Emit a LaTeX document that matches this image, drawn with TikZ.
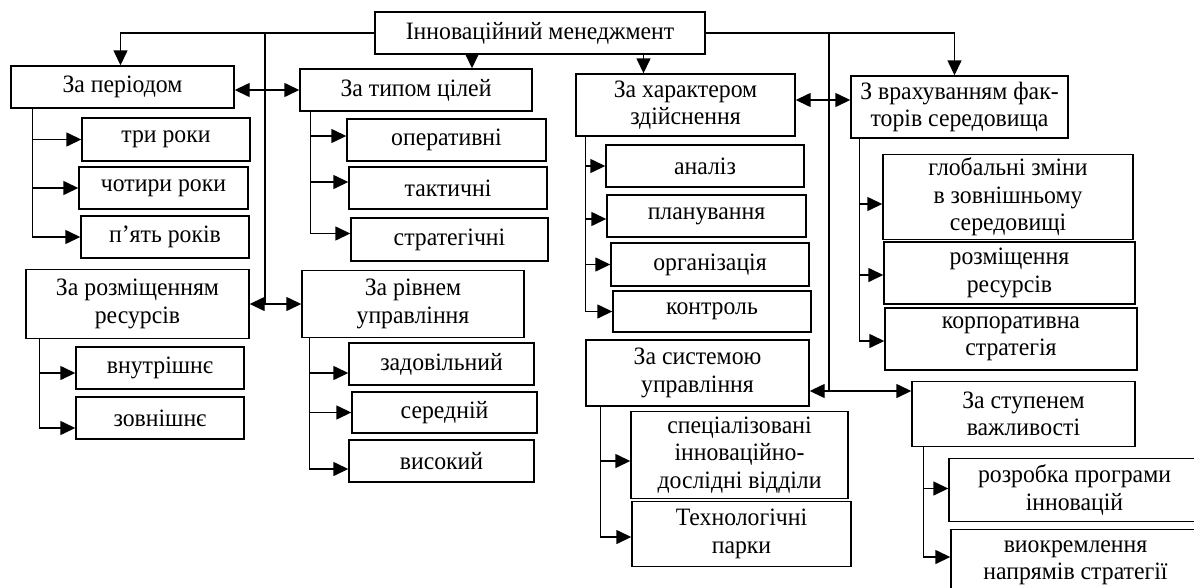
\documentclass[tikz,border=0pt]{standalone}
\usepackage{fontspec}
\setmainfont{Liberation Serif}[FakeStretch=0.95]
\usetikzlibrary{arrows.meta,calc}
\begin{document}
\begin{tikzpicture}[x=1pt,y=-1pt,
  box/.style={draw, line width=1.4pt, align=center, inner sep=0pt, fill=white,
              font=\fontsize{25}{27.5}\selectfont},
  sz/.style n args={2}{minimum width=#1pt, minimum height=#2pt},
  ln/.style={line width=1.4pt},
  arr/.style={line width=1.4pt, -{Triangle[length=15pt,width=14pt]}},
  darr/.style={line width=1.4pt, {Triangle[length=15pt,width=14pt]}-{Triangle[length=15pt,width=14pt]}}]
\useasboundingbox (0,0) rectangle (1194,587);
\clip (0,0) rectangle (1194,587);

% boxes
\node[box,sz={330}{42}] (top) at (540,33) {Інноваційний менеджмент};
\node[box,sz={223}{42}] (per) at (122.5,87) {За періодом};
\node[box,sz={168}{43}] (p1) at (166,139.5) {три роки};
\node[box,sz={169}{42}] (p2) at (163.5,188) {чотири роки};
\node[box,sz={168}{42}] (p3) at (165,237) {п’ять років};
\node[box,sz={223}{69}] (res) at (137.5,304) {За розміщенням\\ресурсів};
\node[box,sz={168}{42}] (r1) at (160,368) {внутрішнє};
\node[box,sz={168}{42}] (r2) at (160,418) {зовнішнє};
\node[box,sz={232}{42}] (goal) at (416,90) {За типом цілей};
\node[box,sz={199}{42}] (g1) at (446.5,140) {оперативні};
\node[box,sz={198}{42}] (g2) at (448,188) {тактичні};
\node[box,sz={197}{43}] (g3) at (449.5,239.5) {стратегічні};
\node[box,sz={222}{67}] (lev) at (413,304) {За рівнем\\управління};
\node[box,sz={185}{42}] (l1) at (441.5,364) {задовільний};
\node[box,sz={185}{41}] (l2) at (444.5,412.5) {середній};
\node[box,sz={185}{42}] (l3) at (441.5,461) {високий};
\node[box,sz={219}{62}] (chr) at (685.5,105) {За характером\\здійснення};
\node[box,sz={198}{42}] (c1) at (705,166) {аналіз};
\node[box,sz={199}{42}] (c2) at (706.5,216) {планування};
\node[box,sz={198}{43}] (c3) at (710,264.5) {організація};
\node[box,sz={198}{41}] (c4) at (712,311.5) {контроль};
\node[box,sz={223}{66}] (sys) at (697.5,373) {За системою\\управління};
\node[box,sz={217}{87}] (s1) at (739.5,455) {спеціалізовані\\інноваційно-\\дослідні відділи};
\node[box,sz={219}{65}] (s2) at (741.5,534) {Технологічні\\парки};
\node[box,sz={217}{62}] (env) at (959.5,107) {З врахуванням фак-\\торів середовища};
\node[box,sz={250}{85}] (e1) at (1008,197) {глобальні зміни\\в зовнішньому\\середовищі};
\node[box,sz={251}{62}] (e2) at (1009.5,273) {розміщення\\ресурсів};
\node[box,sz={252}{62}] (e3) at (1011,339) {корпоративна\\стратегія};
\node[box,sz={223}{65}] (imp) at (1023.5,414) {За ступенем\\важливості};
\node[box,sz={251}{63}] (i1) at (1074.5,490) {розробка програми\\інновацій};
\node[box,sz={249}{67}] (i2) at (1075.5,563) {виокремлення\\напрямів стратегії};

% top distribution
\coordinate (jl) at (265,33);
\coordinate (jr) at (829,33);
\draw[arr] (top.west) -| ($(per.north)+(-2,0)$);
\draw[arr] (top.east) -| ($(env.north)+(-5,0)$);
\coordinate (gn) at ($(goal.north)+(56,0)$);
\draw[arr] (top.south -| gn) -- (gn);
\coordinate (cn) at ($(chr.north)+(-42,0)$);
\draw[arr] (top.south -| cn) -- (cn);

% vertical links with double arrows
\draw[ln] (jl) -- (jl |- res.east);
\draw[darr] (per.east |- goal.west) -- (goal.west);
\draw[darr] (res.east) -- (res.east -| lev.west);
\coordinate (dch) at ($(chr.east)+(0,-5)$);
\coordinate (dsys) at ($(sys.east)+(0,18)$);
\draw[ln] (jr) -- (jr |- dsys);
\draw[darr] (dch) -- (dch -| env.west);
\draw[darr] (dsys) -- (dsys -| imp.west);

% children: За періодом
\coordinate (pk) at ($(per.south west)+(22,0)$);
\draw[arr] (pk) |- (p3.west);
\draw[arr] (pk |- p1.west) -- (p1.west);
\draw[arr] (pk |- p2.west) -- (p2.west);

% children: За розміщенням ресурсів
\coordinate (rk) at ($(res.south west)+(14,0)$);
\coordinate (r1a) at ($(r1.west)+(0,5)$);
\coordinate (r2a) at ($(r2.west)+(0,10)$);
\draw[arr] (rk) |- (r2a);
\draw[arr] (rk |- r1a) -- (r1a);

% children: За типом цілей
\coordinate (gk) at ($(goal.south west)+(11,0)$);
\coordinate (g1a) at ($(g1.west)+(0,-4)$);
\coordinate (g2a) at ($(g2.west)+(0,-6)$);
\coordinate (g3a) at ($(g3.west)+(0,-6)$);
\draw[arr] (gk) |- (g3a);
\draw[arr] (gk |- g1a) -- (g1a);
\draw[arr] (gk |- g2a) -- (g2a);

% children: За рівнем управління
\coordinate (lk) at ($(lev.south west)+(8,0)$);
\coordinate (l1a) at ($(l1.west)+(0,9)$);
\coordinate (l3a) at ($(l3.west)+(0,8)$);
\draw[arr] (lk) |- (l3a);
\draw[arr] (lk |- l1a) -- (l1a);
\draw[arr] (lk |- l2.west) -- (l2.west);

% children: За характером здійснення
\coordinate (ck) at ($(chr.south west)+(10,0)$);
\coordinate (c2a) at ($(c2.west)+(0,3)$);
\draw[arr] (ck) |- (c4.west);
\draw[arr] (ck |- c1.west) -- (c1.west);
\draw[arr] (ck |- c2a) -- (c2a);
\draw[arr] (ck |- c3.west) -- (c3.west);

% children: За системою управління
\coordinate (sk) at ($(sys.south west)+(15,0)$);
\coordinate (s1a) at ($(s1.west)+(0,6)$);
\coordinate (s2a) at ($(s2.west)+(0,3)$);
\draw[arr] (sk) |- (s2a);
\draw[arr] (sk |- s1a) -- (s1a);

% children: З врахуванням факторів середовища
\coordinate (ek) at ($(env.south west)+(9,0)$);
\coordinate (e1a) at ($(e1.west)+(0,7)$);
\coordinate (e2a) at ($(e2.west)+(0,2)$);
\coordinate (e3a) at ($(e3.west)+(0,2)$);
\draw[arr] (ek) |- (e3a);
\draw[arr] (ek |- e1a) -- (e1a);
\draw[arr] (ek |- e2a) -- (e2a);

% children: За ступенем важливості
\coordinate (ik) at ($(imp.south west)+(12,0)$);
\coordinate (i1a) at ($(i1.west)+(0,-1.5)$);
\coordinate (i2a) at ($(i2.west)+(0,-6)$);
\draw[arr] (ik) |- (i2a);
\draw[arr] (ik |- i1a) -- (i1a);
\end{tikzpicture}
\end{document}
